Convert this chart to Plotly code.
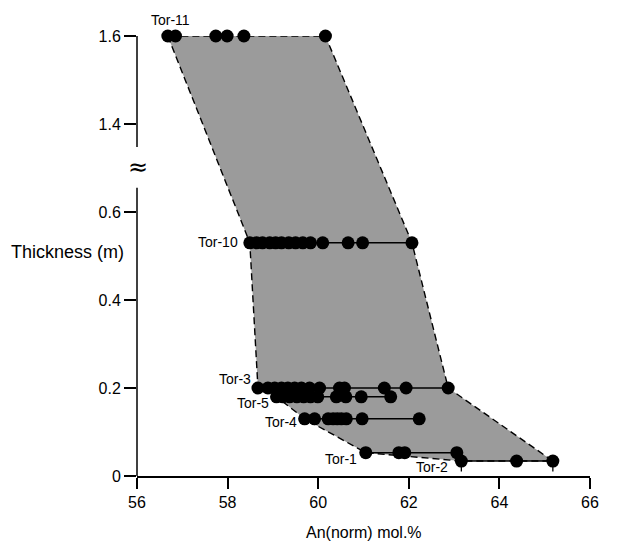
import plotly.graph_objects as go

# ---- data (An(norm) mol.% for each sample, thickness in m) ----
tor11_an = [56.68, 56.85, 57.74, 57.99, 58.36, 60.16]
tor11_t = 1.60
tor10_an = [58.49, 58.64, 58.77, 58.93, 59.06, 59.19, 59.35, 59.50, 59.66, 59.83, 60.10, 60.66, 60.98, 62.07]
tor10_t = 0.53
tor3_an = [58.67, 58.89, 59.04, 59.19, 59.33, 59.48, 59.63, 59.81, 60.03, 60.47, 60.58, 61.46, 61.94, 62.87]
tor3_t = 0.20
tor5_an = [59.08, 59.22, 59.37, 59.53, 59.68, 59.83, 59.99, 60.40, 60.61, 60.95, 61.60]
tor5_t = 0.18
tor4_an = [59.70, 59.92, 60.22, 60.33, 60.42, 60.51, 60.62, 60.97, 62.23]
tor4_t = 0.13
tor1_an = [61.05, 61.78, 61.91, 63.06]
tor1_t = 0.053
tor2_an = [63.16, 64.38, 65.18]
tor2_t = 0.034
tor2_err = [0.024, 0.0, 0.024]

y_tick_values = [0, 0.2, 0.4, 0.6, 1.4, 1.6]
y_tick_labels = ["0", "0.2", "0.4", "0.6", "1.4", "1.6"]
x_tick_values = [56, 58, 60, 62, 64, 66]

BREAK_OFFSET = 0.6  # values above the axis break are shifted down by this


def disp(t):
    return t - BREAK_OFFSET if t > 1.0 else t


series = [
    ("Tor-11", tor11_an, tor11_t, False, dict(xanchor="center", xshift=3, yshift=16)),
    ("Tor-10", tor10_an, tor10_t, True, dict(xanchor="right", xshift=-10, yshift=1)),
    ("Tor-3", tor3_an, tor3_t, True, dict(xanchor="right", xshift=-5, yshift=9)),
    ("Tor-5", tor5_an, tor5_t, True, dict(xanchor="right", xshift=-6, yshift=-6)),
    ("Tor-4", tor4_an, tor4_t, True, dict(xanchor="right", xshift=-6, yshift=-3)),
    ("Tor-1", tor1_an, tor1_t, True, dict(xanchor="right", xshift=-7, yshift=-6)),
    ("Tor-2", tor2_an, tor2_t, True, dict(xanchor="right", xshift=-11, yshift=-6)),
]

FONT = "Liberation Sans, Arial, sans-serif"
fig = go.Figure()

# ---- envelope polygon (from row minima down the left, maxima up the right) ----
left_rows = [(tor11_an, tor11_t), (tor10_an, tor10_t), (tor3_an, tor3_t), (tor5_an, tor5_t),
             (tor4_an, tor4_t), (tor1_an, tor1_t), (tor2_an, tor2_t)]
right_rows = [(tor2_an, tor2_t), (tor3_an, tor3_t), (tor10_an, tor10_t), (tor11_an, tor11_t)]
px = [min(a) for a, t in left_rows] + [max(a) for a, t in right_rows]
py = [disp(t) for a, t in left_rows] + [disp(t) for a, t in right_rows]
px.append(px[0])
py.append(py[0])
fig.add_trace(go.Scatter(
    x=px, y=py, mode="lines", fill="toself", fillcolor="#9b9b9b",
    line=dict(color="black", width=1.4, dash="7px,4px"),
    hoverinfo="skip", showlegend=False, cliponaxis=False,
))

annotations = []
for name, an, t, joined, lab in series:
    kw = {}
    if name == "Tor-2":
        kw["error_y"] = dict(type="data", symmetric=False, array=[0] * len(an),
                             arrayminus=tor2_err, color="black", thickness=1.3, width=0)
    fig.add_trace(go.Scatter(
        x=an, y=[disp(t)] * len(an),
        mode="lines+markers" if joined else "markers",
        line=dict(color="black", width=1.4),
        marker=dict(color="black", size=13),
        name=name, showlegend=False, cliponaxis=False, **kw,
    ))
    annotations.append(dict(
        x=min(an), y=disp(t), xref="x", yref="y", text=name, showarrow=False,
        font=dict(family=FONT, size=14, color="black"),
        yanchor="middle", **lab,
    ))

# ---- broken y axis line ----
shapes = [
    dict(type="line", xref="paper", yref="y", x0=0, x1=0, y0=0, y1=0.655,
         line=dict(color="black", width=1.5)),
    dict(type="line", xref="paper", yref="y", x0=0, x1=0, y0=0.748, y1=disp(1.6),
         line=dict(color="black", width=1.5)),
]
annotations.append(dict(x=0, y=0.703, xref="paper", yref="y", text="≈", showarrow=False,
                        font=dict(family="DejaVu Sans, sans-serif", size=24, color="black"),
                        xanchor="center", yanchor="middle", xshift=1))

# axis titles
annotations.append(dict(x=-0.025, y=disp(0.51), xref="paper", yref="y", text="Thickness (m)",
                        showarrow=False, xanchor="right", yanchor="middle",
                        font=dict(family=FONT, size=18, color="black")))
annotations.append(dict(x=0.5, y=-0.128, xref="paper", yref="paper", text="An(norm) mol.%",
                        showarrow=False, xanchor="center", yanchor="middle",
                        font=dict(family=FONT, size=16, color="black")))

# page body has an 8px margin, so the figure is sized to fit the 624x546 window
fig.update_layout(
    width=616, height=538,
    margin=dict(l=129, r=34, t=28, b=70),
    paper_bgcolor="white", plot_bgcolor="white",
    shapes=shapes, annotations=annotations,
    font=dict(family=FONT, size=16, color="black"),
    xaxis=dict(range=[56, 66], tickvals=x_tick_values, ticks="outside", ticklen=11,
               tickwidth=1.5, tickcolor="black", showline=True, linecolor="black",
               linewidth=1.5, showgrid=False, zeroline=False,
               tickfont=dict(size=16)),
    yaxis=dict(range=[0, disp(1.6)], tickvals=[disp(v) for v in y_tick_values],
               ticktext=y_tick_labels, ticks="outside", ticklen=12, tickwidth=1.5,
               tickcolor="black", showline=False, showgrid=False, zeroline=False,
               tickfont=dict(size=16)),
)

fig.write_html("out.html")
